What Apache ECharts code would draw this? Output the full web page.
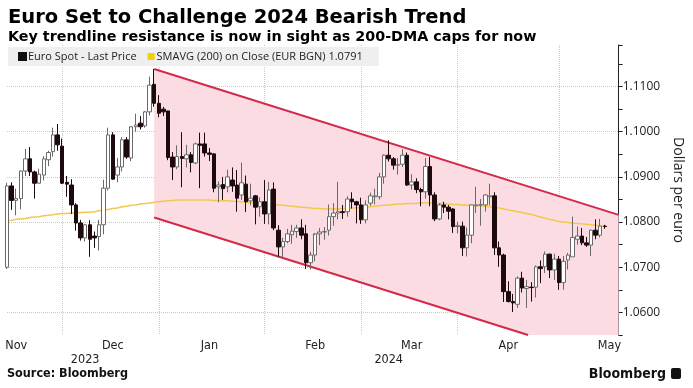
<!DOCTYPE html>
<html><head><meta charset="utf-8">
<script src="https://cdn.jsdelivr.net/npm/echarts@6/dist/echarts.min.js"></script>
<style>html,body{margin:0;padding:0;background:#fff}#c{width:693px;height:388px}</style>
</head><body><div id="c"></div>
<script>
// Trading days (plus 3 empty days of axis room at the end)
const dates = [
'2023-11-14','2023-11-15','2023-11-16','2023-11-17','2023-11-20','2023-11-21','2023-11-22','2023-11-23','2023-11-24','2023-11-27','2023-11-28','2023-11-29','2023-11-30',
'2023-12-01','2023-12-04','2023-12-05','2023-12-06','2023-12-07','2023-12-08','2023-12-11','2023-12-12','2023-12-13','2023-12-14','2023-12-15','2023-12-18','2023-12-19','2023-12-20','2023-12-21','2023-12-22','2023-12-25','2023-12-26','2023-12-27','2023-12-28','2023-12-29',
'2024-01-01','2024-01-02','2024-01-03','2024-01-04','2024-01-05','2024-01-08','2024-01-09','2024-01-10','2024-01-11','2024-01-12','2024-01-15','2024-01-16','2024-01-17','2024-01-18','2024-01-19','2024-01-22','2024-01-23','2024-01-24','2024-01-25','2024-01-26','2024-01-29','2024-01-30','2024-01-31',
'2024-02-01','2024-02-02','2024-02-05','2024-02-06','2024-02-07','2024-02-08','2024-02-09','2024-02-12','2024-02-13','2024-02-14','2024-02-15','2024-02-16','2024-02-19','2024-02-20','2024-02-21','2024-02-22','2024-02-23','2024-02-26','2024-02-27','2024-02-28','2024-02-29',
'2024-03-01','2024-03-04','2024-03-05','2024-03-06','2024-03-07','2024-03-08','2024-03-11','2024-03-12','2024-03-13','2024-03-14','2024-03-15','2024-03-18','2024-03-19','2024-03-20','2024-03-21','2024-03-22','2024-03-25','2024-03-26','2024-03-27','2024-03-28','2024-03-29',
'2024-04-01','2024-04-02','2024-04-03','2024-04-04','2024-04-05','2024-04-08','2024-04-09','2024-04-10','2024-04-11','2024-04-12','2024-04-15','2024-04-16','2024-04-17','2024-04-18','2024-04-19','2024-04-22','2024-04-23','2024-04-24','2024-04-25','2024-04-26','2024-04-29','2024-04-30',
'2024-05-01','2024-05-02','2024-05-03','2024-05-06','2024-05-07','2024-05-08','2024-05-09','2024-05-10','2024-05-13','2024-05-14',
'2024-05-15','2024-05-16','2024-05-17'
];

const openP = [
1.0700,1.0880,1.0848,1.0852,1.0913,1.0940,1.0911,1.0886,1.0904,1.0938,1.0956,1.0993,1.0968,
1.0888,1.0882,1.0838,1.0798,1.0765,1.0794,1.0769,1.0768,1.0794,1.0875,1.0993,1.0904,1.0922,1.0982,1.0942,1.1011,1.1019,1.1013,1.1044,1.1105,1.1063,
1.1050,1.1046,1.0944,1.0922,1.0945,1.0940,1.0949,1.0931,1.0973,1.0973,1.0953,1.0951,1.0878,1.0883,1.0878,1.0893,1.0882,1.0860,1.0884,1.0847,1.0858,1.0834,1.0845,
1.0818,1.0873,1.0782,1.0745,1.0757,1.0772,1.0779,1.0787,1.0774,1.0710,1.0727,1.0774,1.0778,1.0782,1.0812,1.0820,1.0823,1.0823,1.0851,1.0845,1.0838,
1.0805,1.0842,1.0856,1.0856,1.0900,1.0948,1.0940,1.0926,1.0928,1.0948,1.0882,1.0889,1.0872,1.0867,1.0923,1.0860,1.0807,1.0838,1.0833,1.0829,1.0790,
1.0791,1.0743,1.0771,1.0836,1.0838,1.0838,1.0856,1.0858,1.0743,1.0727,1.0646,1.0624,1.0618,1.0676,1.0653,1.0656,1.0656,1.0701,1.0701,1.0729,1.0694,1.0718,
1.0666,1.0716,1.0723,1.0762,1.0769,1.0754,1.0749,1.0782,1.0771,1.0791
];
const highP = [
1.0887,1.0888,1.0874,1.0914,1.0962,1.0966,1.0914,1.0918,1.0946,1.0958,1.1009,1.1017,1.0985,
1.0902,1.0895,1.0842,1.0805,1.0796,1.0804,1.0779,1.0805,1.0894,1.1009,1.0999,1.0942,1.0988,1.0988,1.1012,1.1040,1.1035,1.1046,1.1122,1.1139,1.1081,
1.1055,1.1046,1.0955,1.0970,1.0999,1.0971,1.0955,1.0976,1.0998,1.0998,1.0964,1.0952,1.0890,1.0900,1.0916,1.0921,1.0915,1.0932,1.0903,1.0885,1.0860,1.0855,1.0893,
1.0889,1.0888,1.0793,1.0765,1.0785,1.0794,1.0794,1.0806,1.0794,1.0734,1.0771,1.0787,1.0789,1.0839,1.0842,1.0889,1.0838,1.0857,1.0866,1.0847,1.0854,
1.0848,1.0865,1.0874,1.0909,1.0950,1.0981,1.0944,1.0942,1.0961,1.0954,1.0906,1.0897,1.0876,1.0942,1.0944,1.0866,1.0842,1.0845,1.0838,1.0831,1.0801,
1.0801,1.0788,1.0838,1.0878,1.0851,1.0862,1.0885,1.0866,1.0757,1.0730,1.0669,1.0641,1.0680,1.0690,1.0672,1.0667,1.0704,1.0715,1.0735,1.0730,1.0730,1.0725,
1.0725,1.0732,1.0812,1.0790,1.0787,1.0767,1.0783,1.0806,1.0807,1.0794
];
const lowP = [
1.0696,1.0827,1.0815,1.0828,1.0902,1.0902,1.0852,1.0885,1.0892,1.0924,1.0945,1.0958,1.0884,
1.0856,1.0818,1.0781,1.0759,1.0757,1.0723,1.0743,1.0737,1.0773,1.0870,1.0894,1.0888,1.0912,1.0940,1.0935,1.1000,1.1005,1.1009,1.1036,1.1055,1.1032,
1.1035,1.0937,1.0893,1.0917,1.0877,1.0921,1.0910,1.0928,1.0875,1.0945,1.0935,1.0866,1.0844,1.0849,1.0866,1.0867,1.0823,1.0849,1.0822,1.0837,1.0795,1.0812,1.0796,
1.0795,1.0782,1.0723,1.0722,1.0753,1.0752,1.0765,1.0762,1.0696,1.0695,1.0713,1.0749,1.0761,1.0770,1.0792,1.0806,1.0807,1.0812,1.0830,1.0797,1.0796,
1.0797,1.0836,1.0839,1.0850,1.0885,1.0934,1.0916,1.0905,1.0922,1.0880,1.0872,1.0864,1.0835,1.0852,1.0835,1.0802,1.0804,1.0820,1.0806,1.0776,1.0775,
1.0725,1.0724,1.0753,1.0820,1.0792,1.0823,1.0837,1.0727,1.0701,1.0623,1.0622,1.0601,1.0610,1.0644,1.0610,1.0624,1.0633,1.0665,1.0687,1.0676,1.0672,1.0650,
1.0650,1.0695,1.0723,1.0750,1.0749,1.0745,1.0725,1.0762,1.0766,1.0785
];
const closeP = [
1.0880,1.0848,1.0852,1.0913,1.0940,1.0911,1.0886,1.0906,1.0940,1.0954,1.0993,1.0971,1.0886,
1.0884,1.0838,1.0798,1.0765,1.0794,1.0762,1.0765,1.0794,1.0875,1.0993,1.0895,1.0922,1.0982,1.0944,1.1011,1.1015,1.1011,1.1044,1.1103,1.1063,1.1041,
1.1044,1.0943,1.0922,1.0945,1.0941,1.0949,1.0932,1.0973,1.0970,1.0953,1.0950,1.0875,1.0882,1.0874,1.0900,1.0880,1.0853,1.0887,1.0845,1.0853,1.0833,1.0845,1.0818,
1.0871,1.0787,1.0745,1.0757,1.0774,1.0780,1.0787,1.0771,1.0710,1.0727,1.0774,1.0778,1.0779,1.0812,1.0820,1.0823,1.0821,1.0851,1.0845,1.0838,1.0805,
1.0838,1.0858,1.0858,1.0900,1.0948,1.0940,1.0926,1.0927,1.0948,1.0882,1.0889,1.0872,1.0867,1.0923,1.0860,1.0807,1.0838,1.0833,1.0824,1.0790,1.0792,
1.0743,1.0771,1.0838,1.0838,1.0838,1.0860,1.0858,1.0743,1.0727,1.0646,1.0624,1.0621,1.0676,1.0654,1.0657,1.0655,1.0701,1.0697,1.0729,1.0694,1.0718,1.0666,
1.0713,1.0727,1.0766,1.0769,1.0754,1.0749,1.0782,1.0771,1.0791,1.0790
];
const sma200 = [
1.0803,1.0804,1.0806,1.0807,1.0808,1.0810,1.0811,1.0812,1.0814,1.0815,1.0816,
1.0818,1.0819,1.0819,1.0820,1.0820,1.0821,1.0822,1.0822,1.0823,1.0825,
1.0826,1.0828,1.0830,1.0831,1.0834,1.0835,1.0837,1.0838,1.0840,1.0841,1.0842,1.0844,
1.0845,1.0846,1.0847,1.0848,1.0849,1.0849,1.0849,1.0849,1.0849,1.0849,1.0849,1.0849,
1.0848,1.0848,1.0847,1.0847,1.0846,1.0846,1.0845,1.0844,1.0843,1.0843,1.0842,1.0841,1.0840,
1.0839,1.0838,1.0837,1.0836,1.0835,1.0834,1.0833,1.0832,1.0831,1.0830,1.0830,1.0829,1.0829,
1.0829,1.0829,1.0830,1.0830,1.0831,1.0831,1.0832,1.0833,1.0834,1.0835,1.0836,1.0837,1.0838,1.0839,1.0840,
1.0840,1.0841,1.0841,1.0841,1.0842,1.0842,1.0842,1.0842,1.0841,1.0841,1.0840,
1.0839,1.0839,1.0838,1.0838,1.0837,1.0836,1.0836,1.0835,1.0834,1.0833,
1.0831,1.0829,1.0827,1.0825,1.0823,1.0821,1.0819,1.0817,1.0814,1.0811,1.0809,1.0806,1.0804,1.0801,
1.0800,1.0799,1.0798,1.0797,1.0796,1.0795,1.0794,1.0793,1.0792,1.0791
];

const monthLabelDates = ['2023-11-16','2023-12-15','2024-01-15','2024-02-15','2024-03-15','2024-04-15','2024-05-15'];
const monthLabels = ['Nov','Dec','Jan','Feb','Mar','Apr','May'];
const yearLabelDates = ['2023-12-07','2024-03-08'];
const yearLabels = ['2023','2024'];
const monthEndDates = ['2023-11-30','2023-12-29','2024-01-31','2024-02-29','2024-03-29','2024-04-30'];

const channelDates = ['2023-12-28','2024-05-17'];
const channelUpper = [1.1139, 1.0816];
const channelLower = [1.0810, 1.0487];

const candleName = 'Euro Spot - Last Price';
const smaName = 'SMAVG (200) on Close (EUR BGN) 1.0791';

const candles = openP.map((o, i) => [o, closeP[i], lowP[i], highP[i]]);

const narrow = '"Liberation Sans Narrow","DejaVu Sans Condensed",sans-serif';
const uiFont = '"Open Sans","Noto Sans",sans-serif';
const titleFont = '"DejaVu Sans",Verdana,sans-serif';

const chart = echarts.init(document.getElementById('c'), null, {renderer: 'canvas'});
chart.setOption({
  animation: false,
  backgroundColor: '#ffffff',
  title: [
    {text: 'Euro Set to Challenge 2024 Bearish Trend', left: 3, top: 3,
     textStyle: {fontFamily: titleFont, fontWeight: 'bold', fontSize: 19.5, color: '#000'}},
    {text: 'Key trendline resistance is now in sight as 200-DMA caps for now', left: 3, top: 25,
     textStyle: {fontFamily: titleFont, fontWeight: 'bold', fontSize: 14.3, color: '#000'}}
  ],
  legend: {
    data: [{name: candleName, itemStyle: {color: '#111', borderColor: '#111'}},
           {name: smaName, itemStyle: {color: '#f5d000', borderColor: '#f5d000'}}],
    left: 8, top: 47, icon: 'rect', itemWidth: 7, itemHeight: 7, itemGap: 11,
    padding: [4, 16, 4, 10], backgroundColor: '#efefef',
    textStyle: {fontFamily: uiFont, fontSize: 11, color: '#222', padding: [0, 0, 0, -3]}
  },
  grid: {left: 7, right: 70, top: 45, bottom: 53, containLabel: false},
  xAxis: [
    {type: 'category', data: dates, boundaryGap: false,
     axisLine: {show: false}, axisTick: {show: false},
     axisLabel: {interval: (i, v) => monthLabelDates.includes(v),
                 formatter: v => monthLabels[monthLabelDates.indexOf(v)] || '',
                 margin: 4, fontFamily: narrow, fontSize: 12.5, color: '#222'},
     splitLine: {show: true, interval: (i, v) => monthEndDates.includes(v),
                 lineStyle: {color: '#c8c8c8', type: 'dotted', width: 1}}},
    {type: 'category', data: dates, boundaryGap: false, position: 'bottom', offset: 14,
     axisLine: {show: false}, axisTick: {show: false}, splitLine: {show: false},
     axisLabel: {interval: (i, v) => yearLabelDates.includes(v),
                 formatter: v => yearLabels[yearLabelDates.indexOf(v)] || '',
                 margin: 4, fontFamily: narrow, fontSize: 12.5, color: '#222'}}
  ],
  yAxis: {
    type: 'value', position: 'right', min: 1.055, max: 1.1192, interval: 0.005,
    axisLine: {show: true, lineStyle: {color: '#222', width: 1}},
    axisTick: {show: true, length: 4, lineStyle: {color: '#222'}},
    axisLabel: {margin: 4, fontFamily: uiFont, fontSize: 12, color: '#222',
                formatter: v => (Math.abs(v * 100 - Math.round(v * 100)) < 1e-6 ? v.toFixed(4) : '')},
    splitLine: {show: true, showMinLine: true, showMaxLine: false,
                lineStyle: {color: ['rgba(0,0,0,0)', '#c8c8c8'], type: 'dotted', width: 1}},
    name: 'Dollars per euro', nameLocation: 'middle', nameRotate: -90, nameGap: 48,
    nameTextStyle: {fontFamily: uiFont, fontSize: 14, color: '#222'}
  },
  series: [
    {
      type: 'custom', name: 'channel', z: 1, silent: true,
      data: [[dates.indexOf(channelDates[0]), channelUpper[0]]],
      renderItem: function (params, api) {
        const i0 = dates.indexOf(channelDates[0]);
        const i1 = dates.indexOf(channelDates[1]);
        const u0 = api.coord([i0, channelUpper[0]]);
        const u1 = api.coord([i1, channelUpper[1]]);
        const l0 = api.coord([i0, channelLower[0]]);
        const l1 = api.coord([i1, channelLower[1]]);
        const cs = params.coordSys;
        const bottom = cs.y + cs.height;
        let lowerEnd = l1, poly;
        if (l1[1] > bottom) {
          const t = (bottom - l0[1]) / (l1[1] - l0[1]);
          lowerEnd = [l0[0] + t * (l1[0] - l0[0]), bottom];
          poly = [u0, u1, [u1[0], bottom], lowerEnd, l0];
        } else {
          poly = [u0, u1, l1, l0];
        }
        const red = '#d22a48';
        return {
          type: 'group',
          children: [
            {type: 'polygon', shape: {points: poly}, style: {fill: '#fcdce3', stroke: null}},
            {type: 'line', shape: {x1: u0[0], y1: u0[1], x2: u1[0], y2: u1[1]}, style: {stroke: red, lineWidth: 2}},
            {type: 'line', shape: {x1: l0[0], y1: l0[1], x2: lowerEnd[0], y2: lowerEnd[1]}, style: {stroke: red, lineWidth: 2}}
          ]
        };
      }
    },
    {
      type: 'line', name: smaName, data: sma200, z: 2, symbol: 'none', smooth: false,
      lineStyle: {color: '#f2c84a', width: 1.5}, itemStyle: {color: '#f5d000'}
    },
    {
      type: 'candlestick', name: candleName, data: candles, z: 3, barWidth: 4,
      itemStyle: {color: '#ffffff', color0: '#1c0a0c', borderColor: '#6a6a6a', borderColor0: '#1c0a0c', borderWidth: 1}
    }
  ],
  graphic: [
    {type: 'circle', left: 9, top: 51, shape: {r: 1.5}, style: {fill: 'none', stroke: '#888', lineWidth: 1}},
    {type: 'line', shape: {x1: 10.5, y1: 54, x2: 10.5, y2: 59}, style: {stroke: '#888', lineWidth: 1}},
    {type: 'text', left: 7, top: 367, style: {text: 'Source: Bloomberg', font: 'bold 12.5px ' + narrow, fill: '#111'}},
    {type: 'text', right: 27, top: 367, style: {text: 'Bloomberg', font: 'bold 14px ' + narrow, fill: '#111'}},
    {type: 'rect', left: 671, top: 368, shape: {width: 10, height: 11, r: 2}, style: {fill: '#111'}}
  ]
});
</script>
</body></html>
